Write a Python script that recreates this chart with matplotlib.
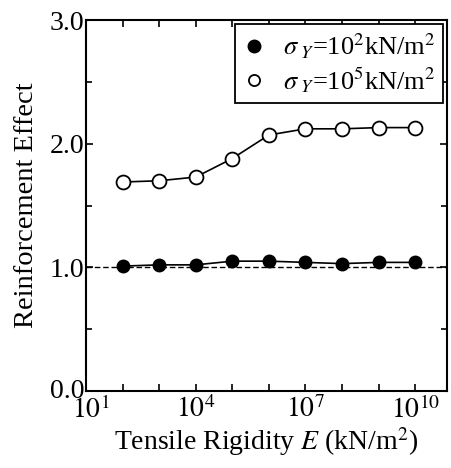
import matplotlib
matplotlib.use('Agg')
import matplotlib.pyplot as plt
from matplotlib.lines import Line2D
from matplotlib.transforms import ScaledTranslation
import numpy as np

plt.rcParams['font.family'] = ['Liberation Serif', 'DejaVu Serif']
plt.rcParams['mathtext.fontset'] = 'stix'

# data
rigidity = [1e2, 1e3, 1e4, 1e5, 1e6, 1e7, 1e8, 1e9, 1e10]
effect_low = [1.01, 1.02, 1.02, 1.05, 1.05, 1.04, 1.03, 1.04, 1.04]
effect_high = [1.69, 1.70, 1.73, 1.88, 2.07, 2.12, 2.12, 2.13, 2.13]
label_low = r'$\sigma_{\ Y}$=10$^2$kN/m$^2$'
label_high = r'$\sigma_{\ Y}$=10$^5$kN/m$^2$'

x_ticks = [1e1, 1e2, 1e3, 1e4, 1e5, 1e6, 1e7, 1e8, 1e9, 1e10]
x_ticklabels = [r'$10^1$', '', '', r'$10^4$', '', '', r'$10^7$', '', '', r'$10^{10}$']
y_ticks = [0.0, 1.0, 2.0, 3.0]
y_ticklabels = ['0.0', '1.0', '2.0', '3.0']

fig = plt.figure(figsize=(4.51, 4.68), dpi=100)
ax = fig.add_axes([86/451, 1-391/468, 361/451, 371/468])

ax.axhline(1.0, color='black', ls='--', lw=1.0, dashes=(4, 2), zorder=1)
ax.plot(rigidity, effect_low, '-o', color='black', mfc='black', mec='black',
        ms=9, lw=1.2, zorder=3)
ax.plot(rigidity, effect_high, '-o', color='black', mfc='white', mec='black',
        ms=10, mew=1.3, lw=1.2, zorder=3)

ax.set_xscale('log')
ax.set_xlim(1e1, 10**10.87)
ax.set_ylim(0, 3.0)

ax.set_xticks(x_ticks)
ax.set_xticklabels(x_ticklabels)
ax.xaxis.set_minor_locator(matplotlib.ticker.NullLocator())
ax.set_yticks(y_ticks)
ax.set_yticklabels(y_ticklabels, va='center_baseline')
ax.set_yticks([0.5, 1.5, 2.5], minor=True)

ax.tick_params(which='both', direction='in', top=True, right=True, width=1.2)
ax.tick_params(which='major', length=5, labelsize=20)
ax.tick_params(axis='y', which='major', pad=1)
ax.tick_params(axis='x', which='major', pad=4)
ax.tick_params(which='minor', length=4)
for s in ax.spines.values():
    s.set_linewidth(1.5)

# nudge the corner labels apart like in the original
lab0 = ax.get_yticklabels()[0]
lab0.set_transform(lab0.get_transform() + ScaledTranslation(0, 3/100, fig.dpi_scale_trans))
labx = ax.get_xticklabels()[0]
labx.set_transform(labx.get_transform() + ScaledTranslation(5/100, 0, fig.dpi_scale_trans))

ax.set_ylabel('Reinforcement Effect', fontsize=20.5, labelpad=8)
ax.set_xlabel(r'Tensile Rigidity $E$ (kN/m$^2$)', fontsize=20, labelpad=1)

handles = [Line2D([], [], ls='none', marker='o', mfc='black', mec='black', ms=9),
           Line2D([], [], ls='none', marker='o', mfc='white', mec='black', ms=8, mew=1.3)]
leg = ax.legend(handles, [label_low, label_high], loc='upper right', fontsize=19,
                frameon=True, fancybox=False, edgecolor='black', framealpha=1,
                handlelength=0.8, handletextpad=0.7, borderpad=0.3,
                labelspacing=0.15, borderaxespad=0.15)
leg.get_frame().set_linewidth(1.3)

fig.savefig('out.png', dpi=100)
